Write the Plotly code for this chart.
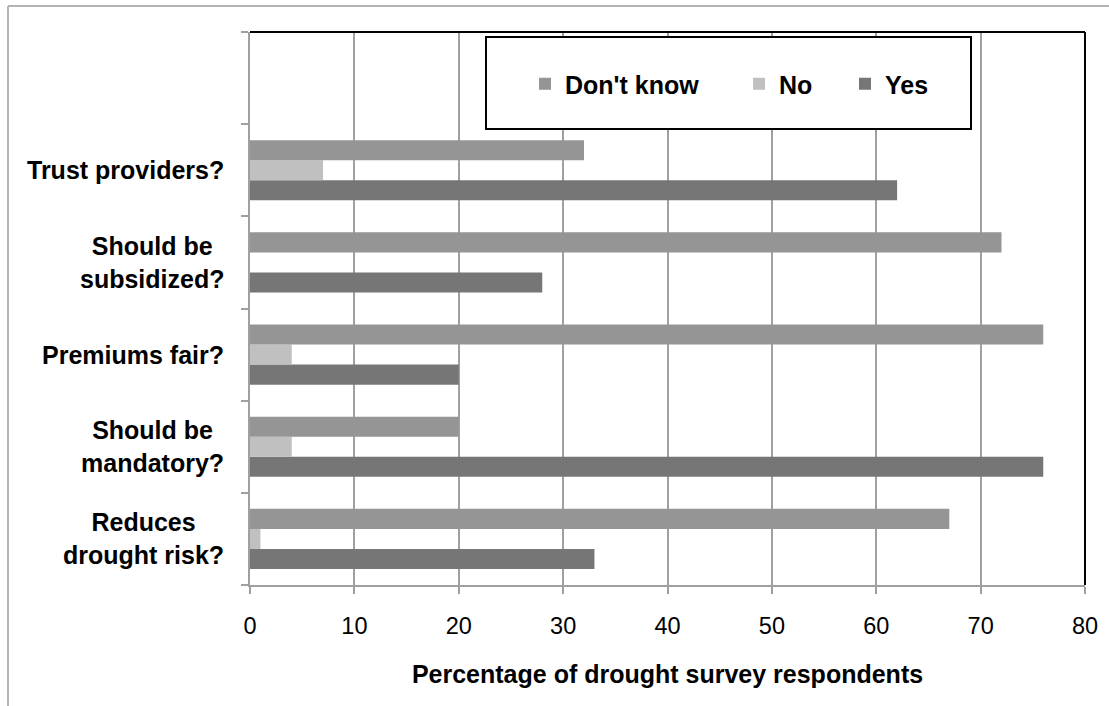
import plotly.graph_objects as go

# ---- data (bottom to top, as drawn) ----
questions = ["Reduces<br>drought risk?", "Should be<br>mandatory?", "Premiums fair?",
             "Should be<br>subsidized?", "Trust providers?"]
dont_know = [67, 20, 76, 72, 32]
no_vals = [1, 4, 4, 0, 7]
yes_vals = [33, 76, 20, 28, 62]
x_ticks = [0, 10, 20, 30, 40, 50, 60, 70, 80]

series_names = ["Yes", "No", "Don't know"]
series_values = [yes_vals, no_vals, dont_know]
series_colors = ["#767676", "#c0c0c0", "#959595"]
legend_ids = ["legend3", "legend2", "legend"]

FONT = "Liberation Sans, Arial, sans-serif"
GRAY = "#a0a0a0"

ypos = list(range(len(questions)))

fig = go.Figure()
for name, vals, col, lg in zip(series_names, series_values, series_colors, legend_ids):
    fig.add_trace(go.Bar(
        x=vals, y=ypos, orientation="h", name=name,
        marker=dict(color=col, line=dict(width=0)),
        legend=lg,
    ))

# category labels (centered multi-line text, right-aligned to the axis)
for yv, q in zip(ypos, questions):
    fig.add_annotation(
        x=0, xref="paper", y=yv, yref="y", text=f"<b>{q}</b>",
        showarrow=False, xanchor="right", yanchor="middle", align="center",
        xshift=-24, font=dict(family=FONT, size=25, color="black"),
    )

W, H = 1109, 706
L, R, T, B = 250, 24, 32, 121
pw, ph = W - L - R, H - T - B


def px_x(p):
    return (p - L) / pw


def px_y(p):
    return (H - B - p) / ph


shapes = [
    # outer chart border (top, left)
    dict(type="line", xref="paper", yref="paper", x0=px_x(8), x1=px_x(1120),
         y0=px_y(6), y1=px_y(6), line=dict(color="#b4b4b4", width=2), layer="above"),
    dict(type="line", xref="paper", yref="paper", x0=px_x(8), x1=px_x(8),
         y0=px_y(6), y1=px_y(720), line=dict(color="#b4b4b4", width=2), layer="above"),
    # plot frame top / right (black)
    dict(type="line", xref="paper", yref="paper", x0=0, x1=1, y0=1, y1=1,
         line=dict(color="black", width=2), layer="above"),
    dict(type="line", xref="paper", yref="paper", x0=1, x1=1, y0=0, y1=1,
         line=dict(color="black", width=2), layer="above"),
    # legend box
    dict(type="rect", xref="paper", yref="paper", x0=px_x(486), x1=px_x(971),
         y0=px_y(129), y1=px_y(37), line=dict(color="black", width=2),
         fillcolor="white", layer="above"),
]

leg_common = dict(orientation="h", bgcolor="rgba(0,0,0,0)", borderwidth=0,
                  font=dict(family=FONT, size=25, color="black", weight="bold"),
                  yanchor="middle", xanchor="left", y=px_y(84))

fig.update_layout(
    width=W, height=H,
    margin=dict(l=L, r=R, t=T, b=B, pad=0),
    paper_bgcolor="white", plot_bgcolor="white",
    barmode="group", bargap=0.348, bargroupgap=0,
    showlegend=True,
    legend=dict(**leg_common, x=px_x(545 - 20)),
    legend2=dict(**leg_common, x=px_x(759 - 20)),
    legend3=dict(**leg_common, x=px_x(865 - 20)),
    shapes=shapes,
    xaxis=dict(
        range=[0, 80], tickvals=x_ticks, ticktext=[str(v) for v in x_ticks],
        showgrid=True, gridcolor=GRAY, gridwidth=1.6, zeroline=False,
        showline=True, linecolor=GRAY, linewidth=2,
        ticks="outside", ticklen=7, tickcolor=GRAY, tickwidth=2,
        tickfont=dict(family=FONT, size=23.5, color="black"),
        ticklabelstandoff=12,
        title=dict(text="<b>Percentage of drought survey respondents</b>",
                   font=dict(family=FONT, size=25, color="black"), standoff=27),
        fixedrange=True,
    ),
    yaxis=dict(
        range=[-0.5, len(questions) + 0.5],
        tickvals=[i - 0.5 for i in range(len(questions) + 2)],
        showticklabels=False, showgrid=False, zeroline=False,
        showline=True, linecolor=GRAY, linewidth=2,
        ticks="outside", ticklen=7, tickcolor=GRAY, tickwidth=2,
        fixedrange=True,
    ),
)

fig.write_html("out.html", config={"displayModeBar": False},
               post_script="document.body.style.margin='0';")
